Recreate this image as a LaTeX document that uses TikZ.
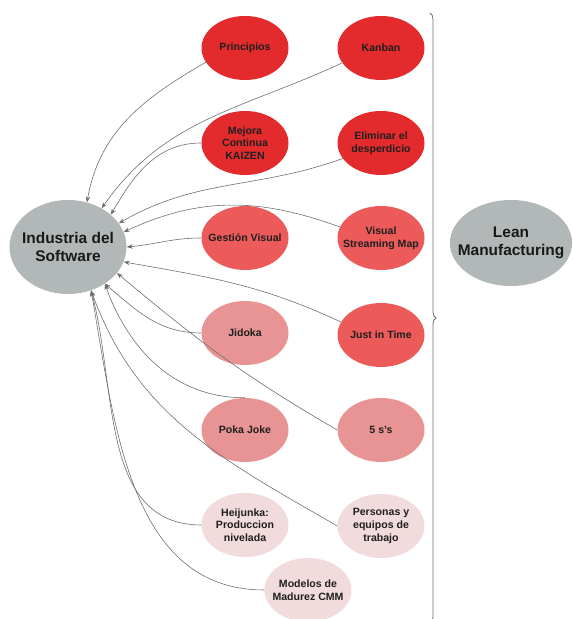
\documentclass[tikz,border=0pt]{standalone}
\usepackage{fontspec}
\setmainfont{Liberation Sans}
\usetikzlibrary{shapes.geometric,decorations.pathreplacing,arrows.meta}

\definecolor{rojo1}{HTML}{E32B2D}
\definecolor{rojo2}{HTML}{EC5A5A}
\definecolor{rojo3}{HTML}{E89494}
\definecolor{rojo4}{HTML}{F1DBDC}
\definecolor{gris}{HTML}{B2B7B8}
\definecolor{linea}{HTML}{6E6E6E}

\tikzset{
  hoja/.style={ellipse, minimum width=87bp, minimum height=64bp, inner xsep=-10bp, inner ysep=0pt,
    align=center, text=black!88, font=\bfseries\fontsize{10.6}{12.7}\selectfont},
  raiz/.style={ellipse, fill=gris, inner xsep=-10bp, inner ysep=0pt, align=center, text=black!90,
    font=\bfseries\fontsize{15.5}{18.5}\selectfont},
  flecha/.style={->, draw=linea, line width=0.6pt}
}

\begin{document}
\begin{tikzpicture}[>={Stealth[length=6pt,width=4.5pt]}, x=1bp, y=1bp]
\useasboundingbox (0,0) rectangle (573,619);

\node[raiz, minimum width=117bp, minimum height=94bp] (ind) at (68,372) {Industria del\\Software};
\node[raiz, minimum width=122bp, minimum height=86bp] (lean) at (511,376) {Lean\\Manufacturing};

% columna izquierda
\node[hoja, fill=rojo1] (prin) at (245,571) {Principios};
\node[hoja, fill=rojo1] (mej) at (245,476) {Mejora\\Continua\\KAIZEN};
\node[hoja, fill=rojo2] (gest) at (245,381) {Gestión Visual};
\node[hoja, fill=rojo3] (jid) at (245,286) {Jidoka};
\node[hoja, fill=rojo3] (poka) at (245,189) {Poka Joke};
\node[hoja, fill=rojo4] (heij) at (245,94) {Heijunka:\\Produccion\\nivelada};
\node[hoja, fill=rojo4] (mod) at (308,29) {Modelos de\\Madurez CMM};

% columna derecha
\node[hoja, fill=rojo1] (kan) at (381,571) {Kanban};
\node[hoja, fill=rojo1] (elim) at (381,476) {Eliminar el\\desperdicio};
\node[hoja, fill=rojo2] (vsm) at (381,381) {Visual\\Streaming Map};
\node[hoja, fill=rojo2] (jit) at (381,284) {Just in Time};
\node[hoja, fill=rojo3] (cinco) at (381,189) {5 s's};
\node[hoja, fill=rojo4] (pers) at (381,93) {Personas y\\equipos de\\trabajo};

% llave
\draw[linea, line width=0.8pt, decorate, decoration={brace, amplitude=6bp}] (430,606) -- (430,-4);

% flechas
\draw[flecha] (prin.200) to[out=210,in=80] (ind.67);
\draw[flecha] (kan.201) to[out=205,in=55] (ind.49);
\draw[flecha] (mej.west) to[out=180,in=60] (ind.37);
\draw[flecha] (elim.202) to[out=200,in=30] (ind.25);
\draw[flecha] (vsm.165) to[out=160,in=25] (ind.15);
\draw[flecha] (gest.west) to[out=180,in=5] (ind.0);
\draw[flecha] (jit.162) to[out=155,in=-10] (ind.-15);
\draw[flecha] (cinco.west) to[out=150,in=-40] (ind.-28);
\draw[flecha] (jid.west) to[out=180,in=-40] (ind.-45);
\draw[flecha] (poka.north) to[out=180,in=-70] (ind.-45);
\draw[flecha] (pers.west) to[out=150,in=-70] (ind.-62);
\draw[flecha] (heij.west) to[out=180,in=-75] (ind.-62);
\draw[flecha] (mod.west) to[out=180,in=-80] (ind.-62);

\end{tikzpicture}
\end{document}
